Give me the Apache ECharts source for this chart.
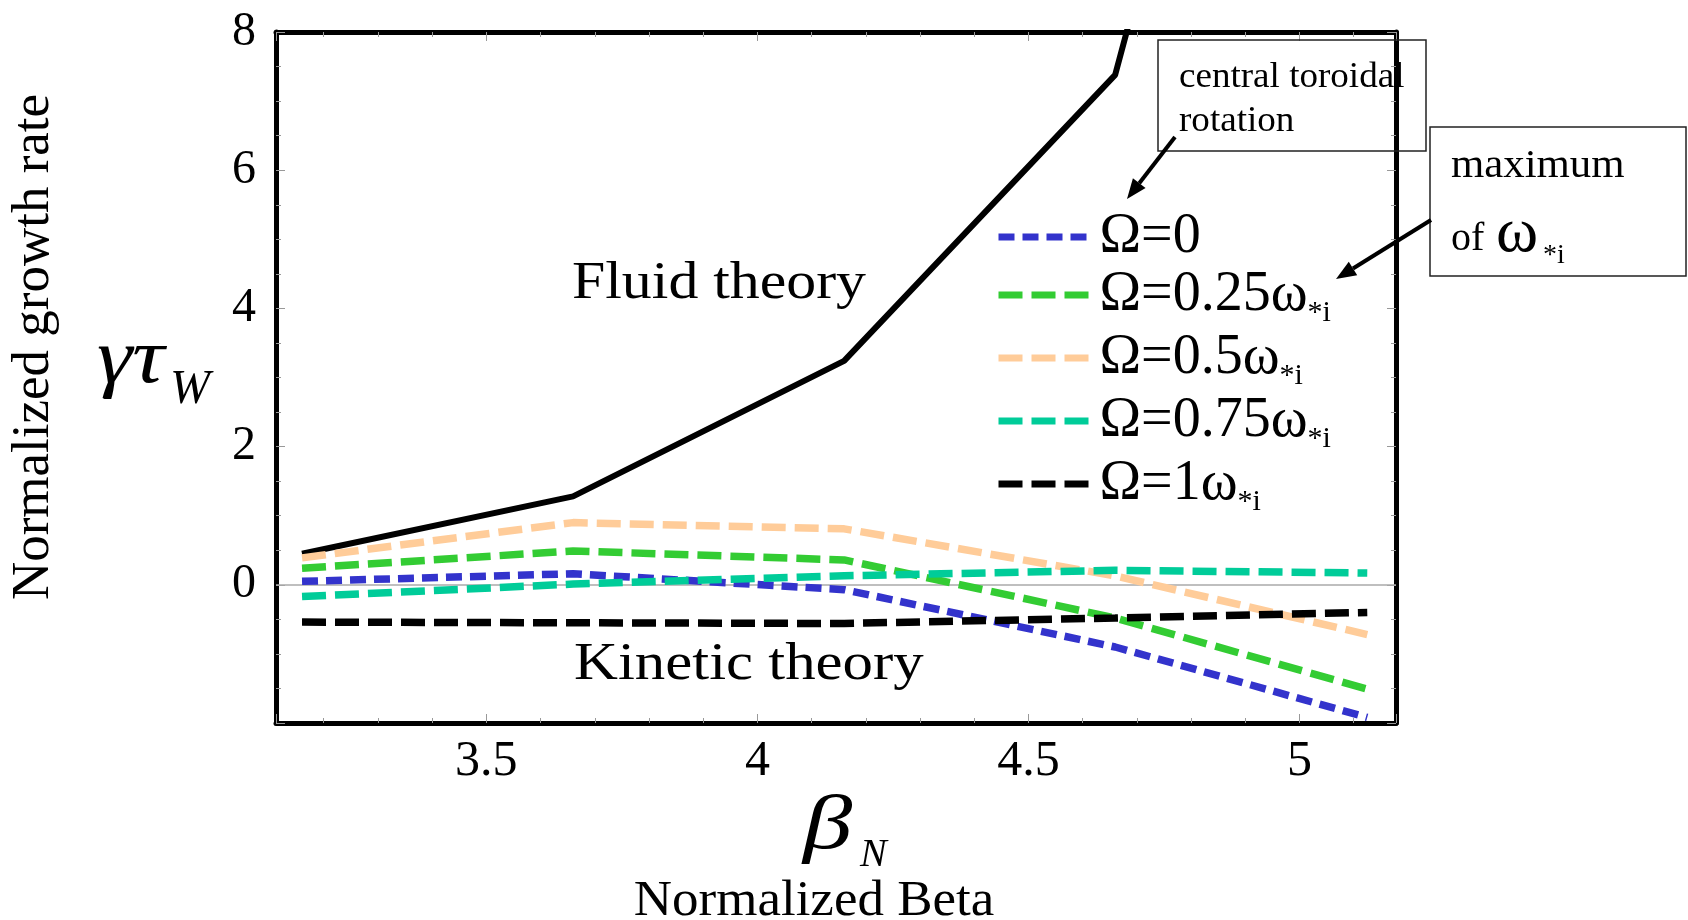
<!DOCTYPE html>
<html>
<head>
<meta charset="utf-8">
<script src="https://cdn.jsdelivr.net/npm/echarts@6/dist/echarts.min.js"></script>
<style>
html,body{margin:0;padding:0;background:#fff;}
#c{width:1688px;height:920px;}
</style>
</head>
<body>
<div id="c"></div>
<script>
// ---- data ----
const betaN      = [3.16, 3.66, 4.16, 4.66, 5.125];
const fluidTheory = [0.45, 1.28, 3.24, 7.38, 21.0];
const omega0     = [0.05, 0.16, -0.07, -0.90, -1.92];
const omega025   = [0.24, 0.49, 0.36, -0.48, -1.51];
const omega05    = [0.39, 0.90, 0.81, 0.13, -0.72];
const omega075   = [-0.17, 0.01, 0.13, 0.21, 0.17];
const omega1     = [-0.54, -0.55, -0.56, -0.48, -0.40];
const legendNames = ['Ω=0', 'Ω=0.25ω*i', 'Ω=0.5ω*i', 'Ω=0.75ω*i', 'Ω=1ω*i'];
const xRange = [3.112, 5.178];
const yRange = [-2, 8];

const serif = 'Liberation Serif';
const pairs = ys => betaN.map((x, i) => [x, ys[i]]);

function arrow(x1, y1, x2, y2) {
  const dx = x2 - x1, dy = y2 - y1, L = Math.hypot(dx, dy);
  const ux = dx / L, uy = dy / L, hl = 20, hw = 8;
  const bx = x2 - ux * hl, by = y2 - uy * hl;
  return [
    {type: 'line', z: 100, shape: {x1: x1, y1: y1, x2: bx, y2: by}, style: {stroke: '#000', lineWidth: 4}},
    {type: 'polygon', z: 100, shape: {points: [[x2, y2], [bx - uy * hw, by + ux * hw], [bx + uy * hw, by - ux * hw]]}, style: {fill: '#000'}}
  ];
}

function txt(text, x, y, size, opts) {
  opts = opts || {};
  return {
    type: 'text', z: 100, x: x, y: y,
    rotation: opts.rotation || 0,
    scaleX: opts.scaleX || 1,
    style: {
      text: text, fontFamily: serif, fontSize: size,
      fontStyle: opts.italic ? 'italic' : 'normal',
      fill: '#000', align: opts.align || 'left', verticalAlign: 'middle'
    }
  };
}

const tickCommon = {
  axisTick: {show: true, inside: true, length: 9, lineStyle: {color: '#999', width: 1}},
  minorTick: {show: true, length: 5, lineStyle: {color: '#999', width: 1}},
  splitLine: {show: false},
  axisLine: {show: true, onZero: false, lineStyle: {color: '#000', width: 5}}
};

const dashedSeries = [
  {name: legendNames[0], data: omega0,   color: '#3333cc', dash: [16, 8]},
  {name: legendNames[1], data: omega025, color: '#33cc33', dash: [24, 9]},
  {name: legendNames[2], data: omega05,  color: '#ffcc99', dash: [24, 9]},
  {name: legendNames[3], data: omega075, color: '#00cc99', dash: [24, 9]},
  {name: legendNames[4], data: omega1,   color: '#000000', dash: [24, 9]}
];

const series = [{
  name: 'Fluid theory', type: 'line', data: pairs(fluidTheory), symbol: 'none',
  lineStyle: {color: '#000', width: 6}, itemStyle: {color: '#000'}, z: 2,
  markLine: {
    z: 1, silent: true, symbol: 'none', label: {show: false},
    lineStyle: {color: '#aaa', width: 1.5, type: 'solid'},
    data: [{yAxis: 0}]
  }
}].concat(dashedSeries.map((s, i) => ({
  name: s.name, type: 'line', data: pairs(s.data), symbol: 'none', z: 3 + i,
  lineStyle: {color: s.color, width: 7.5, type: s.dash},
  itemStyle: {color: s.color}
})));

const option = {
  animation: false,
  backgroundColor: '#fff',
  grid: {left: 276, right: 292, top: 32, bottom: 197, containLabel: false, outerBoundsMode: 'none'},
  xAxis: [
    Object.assign({}, tickCommon, {
      type: 'value', position: 'bottom', min: xRange[0], max: xRange[1],
      minInterval: 0.5, maxInterval: 0.5,
      minorTick: Object.assign({}, tickCommon.minorTick, {splitNumber: 5}),
      axisLabel: {fontFamily: serif, fontSize: 50, color: '#000', margin: 14, showMinLabel: false, showMaxLabel: false}
    }),
    Object.assign({}, tickCommon, {
      type: 'value', position: 'top', min: xRange[0], max: xRange[1],
      minInterval: 0.5, maxInterval: 0.5,
      minorTick: Object.assign({}, tickCommon.minorTick, {splitNumber: 5}),
      axisLabel: {show: false}
    })
  ],
  yAxis: [
    Object.assign({}, tickCommon, {
      type: 'value', position: 'left', min: yRange[0], max: yRange[1], interval: 2,
      minorTick: Object.assign({}, tickCommon.minorTick, {splitNumber: 4}),
      axisLabel: {fontFamily: serif, fontSize: 48, color: '#000', margin: 20, showMinLabel: false}
    }),
    Object.assign({}, tickCommon, {
      type: 'value', position: 'right', min: yRange[0], max: yRange[1], interval: 2,
      minorTick: Object.assign({}, tickCommon.minorTick, {splitNumber: 4}),
      axisLabel: {show: false}
    })
  ],
  legend: {
    orient: 'vertical', left: 990, top: 204,
    itemWidth: 90, itemHeight: 14, itemGap: 2,
    data: legendNames,
    selectedMode: false,
    itemStyle: {color: 'rgba(0,0,0,0)', borderWidth: 0, opacity: 0},
    lineStyle: {width: 7},
    formatter: function (name) {
      if (name.indexOf('*i') >= 0) {
        return '{a|' + name.replace('*i', '') + '}{s|*i}';
      }
      return '{a|' + name + '}';
    },
    textStyle: {
      fontFamily: serif, fontSize: 56, color: '#000',
      rich: {
        a: {fontFamily: serif, fontSize: 56, lineHeight: 66, color: '#000', padding: [0, 0, 0, 6]},
        s: {fontFamily: serif, fontSize: 30, color: '#000', verticalAlign: 'bottom'}
      }
    }
  },
  series: series,
  graphic: [
    txt('Normalized growth rate', 34, 347, 53, {rotation: Math.PI / 2, align: 'center'}),
    txt('γτ', 97, 361, 78, {italic: true, scaleX: 1.15}),
    txt('W', 170, 390, 48, {italic: true}),
    txt('β', 803, 828, 76, {italic: true, scaleX: 1.3}),
    txt('N', 860, 855, 40, {italic: true}),
    txt('Normalized Beta', 814, 902, 50, {align: 'center', scaleX: 1.06}),
    txt('Fluid theory', 572, 284, 52, {scaleX: 1.15}),
    txt('Kinetic theory', 574, 665, 52, {scaleX: 1.17}),
    {type: 'rect', z: 99, shape: {x: 1158, y: 40, width: 268, height: 111},
     style: {fill: 'none', stroke: '#222', lineWidth: 1.5}},
    txt('central toroidal', 1179, 78, 36, {scaleX: 1.03}),
    txt('rotation', 1179, 122, 36, {scaleX: 1.03}),
    {type: 'rect', z: 99, shape: {x: 1430, y: 127, width: 256, height: 149},
     style: {fill: '#fff', stroke: '#222', lineWidth: 1.5}},
    txt('maximum', 1451, 166, 40, {scaleX: 1.07}),
    txt('of', 1451, 239, 40),
    txt('ω', 1496, 234, 64),
    txt('*i', 1543, 256, 28)
  ].concat(arrow(1175, 137, 1127, 199)).concat(arrow(1431, 220, 1336, 279))
};

const chart = echarts.init(document.getElementById('c'), null, {renderer: 'canvas'});
chart.setOption(option);
</script>
</body>
</html>
